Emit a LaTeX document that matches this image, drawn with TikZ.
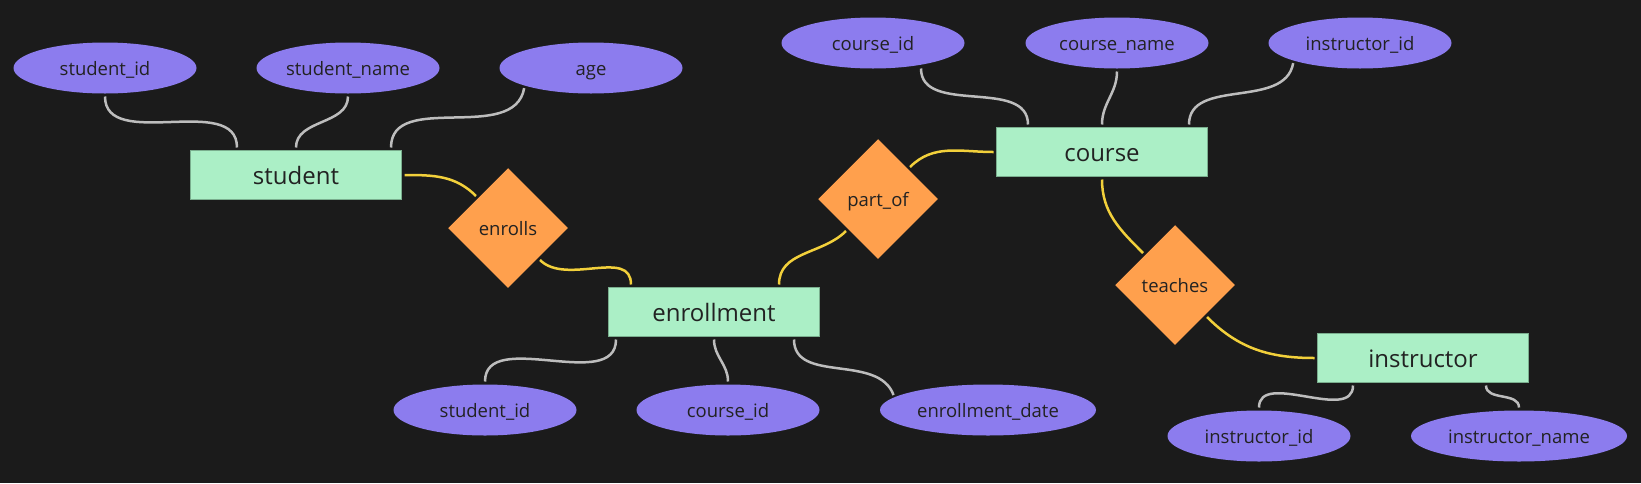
\documentclass[tikz,border=0pt]{standalone}
\usepackage{fontspec}
\setmainfont{Open Sans}
\usepackage{xcolor}
\usepackage{tikz}
\usetikzlibrary{shapes.geometric}

\definecolor{bgcol}{HTML}{1B1B1B}
\definecolor{attrcol}{HTML}{8C7CEE}
\definecolor{entitycol}{HTML}{ABEFC6}
\definecolor{entityedge}{HTML}{7AAE8E}
\definecolor{relcol}{HTML}{FFA04D}
\definecolor{textcol}{HTML}{222222}
\definecolor{linegrey}{HTML}{BDBDBD}
\definecolor{lineyellow}{HTML}{F2D03B}

\tikzset{
	entity/.style={rectangle, fill=entitycol, draw=entityedge, line width=1pt, minimum width=211pt, minimum height=49pt, outer sep=3pt, text=textcol, text height=18pt, text depth=0pt, font=\fontsize{24}{28}\selectfont},
	attr/.style={ellipse, fill=attrcol, minimum width=183pt, minimum height=51pt, inner sep=0pt, outer sep=3pt, text=textcol, text height=14pt, text depth=0pt, font=\fontsize{18.5}{22}\selectfont},
	rel/.style={diamond, fill=relcol, minimum size=122pt, inner sep=0pt, outer sep=3pt, text=textcol, text height=15pt, text depth=0pt, font=\fontsize{18.5}{22}\selectfont},
	attrline/.style={draw=linegrey, line width=2.5pt},
	relline/.style={draw=lineyellow, line width=2.5pt},
}

\begin{document}
\begin{tikzpicture}[x=1pt, y=-1pt]
		\fill[bgcol] (0,0) rectangle (1641,483);
		\useasboundingbox (0,0) rectangle (1641,483);
		
		% entities
		\node[entity] (student) at (296,175) {student};
		\node[entity] (enrollment) at (714,312) {enrollment};
		\node[entity] (course) at (1102,152) {course};
		\node[entity] (instructor) at (1423,358) {instructor};
		
		% relationships
		\node[rel] (enrolls) at (508,228) {enrolls};
		\node[rel] (partof) at (878,199) {part\_of};
		\node[rel] (teaches) at (1175,285) {teaches};
		
		% attributes
		\node[attr] (sid) at (105,68) {student\_id};
		\node[attr] (sname) at (348,68) {student\_name};
		\node[attr] (age) at (591,68) {age};
		\node[attr] (cid) at (873,43) {course\_id};
		\node[attr] (cname) at (1117,43) {course\_name};
		\node[attr] (ciid) at (1360,43) {instructor\_id};
		\node[attr] (esid) at (485,410) {student\_id};
		\node[attr] (ecid) at (728,410) {course\_id};
		\node[attr, minimum width=216pt] (edate) at (988,410) {enrollment\_date};
		\node[attr] (iid) at (1259,436) {instructor\_id};
		\node[attr, minimum width=216pt] (iname) at (1519,436) {instructor\_name};
		
		% attribute links
		\draw[attrline] (sid.south) to[out=-90, in=90] ([xshift=-59pt]student.north);
		\draw[attrline] (sname.south) to[out=-90, in=90] (student.north);
		\draw[attrline] (age.south west) to[out=-100, in=90] ([xshift=95pt]student.north);
		\draw[attrline] ([xshift=48pt, yshift=3pt]cid.south) to[out=-90, in=90] ([xshift=-74pt]course.north);
		\draw[attrline] (cname.south) to[out=-90, in=90] (course.north);
		\draw[attrline] (ciid.south west) to[out=-100, in=90] ([xshift=87pt]course.north);
		\draw[attrline] (esid.north) to[out=90, in=-90] ([xshift=-98pt]enrollment.south);
		\draw[attrline] (ecid.north) to[out=90, in=-90] (enrollment.south);
		\draw[attrline] (edate.171) to[out=110, in=-90] ([xshift=80pt]enrollment.south);
		\draw[attrline] (iid.north) to[out=90, in=-90] ([xshift=-70pt]instructor.south);
		\draw[attrline] (iname.north) to[out=90, in=-90] ([xshift=63pt]instructor.south);
		
		% relationship links
		\draw[relline] (student.east) to[out=0, in=135] (enrolls.north west);
		\draw[relline] (enrolls.south east) to[out=-45, in=90] ([xshift=-83pt]enrollment.north);
		\draw[relline] (partof.south west) to[out=-135, in=90] ([xshift=65pt]enrollment.north);
		\draw[relline] (partof.north east) to[out=45, in=180] (course.west);
		\draw[relline] (course.south) to[out=-90, in=135] (teaches.north west);
		\draw[relline] (teaches.south east) to[out=-45, in=180] (instructor.west);
	\end{tikzpicture}
\end{document}
